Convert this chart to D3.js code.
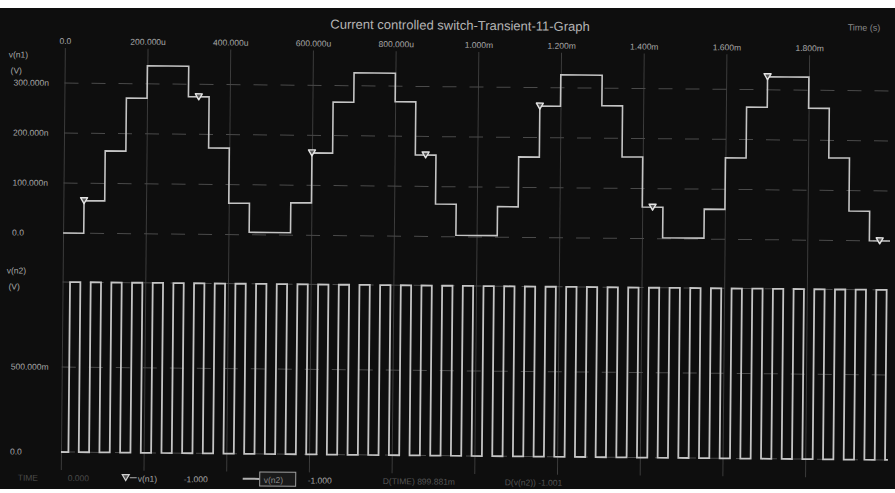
<!DOCTYPE html>
<html>
<head>
<meta charset="utf-8">
<script src="https://cdn.jsdelivr.net/npm/d3@7"></script>
<style>
  body { margin: 0; background: #fff; }
  text { font-family: "Liberation Sans", Arial, sans-serif; }
</style>
</head>
<body>
<svg id="chart" width="895" height="493"></svg>
<script>
// time axis (microseconds)
var xTicks = [0, 200, 400, 600, 800, 1000, 1200, 1400, 1600, 1800];
var xTickLabels = ['0.0', '200.000u', '400.000u', '600.000u', '800.000u',
  '1.000m', '1.200m', '1.400m', '1.600m', '1.800m'];

// v(n1) panel (nV)
var y1Ticks = [0, 100, 200, 300];
var y1TickLabels = ['0.0', '100.000n', '200.000n', '300.000n'];

// v(n2) panel (V)
var y2Ticks = [0, 0.5, 1];
var y2TickLabels = ['0.0', '500.000m', ''];

// v(n1): one sample held for every 50us step
var v1Step = 50;
var v1Samples = [0, 65, 165, 271, 336, 336, 275, 173, 63, 5,
  5, 65, 165, 267, 326, 326, 269, 163, 65, 3,
  3, 61, 161, 263, 326, 326, 265, 163, 63, 2,
  2, 60, 163, 265, 326, 326, 264, 165, 59, 0];

// markers on v(n1)
var markerTimes = [50, 325, 600, 875, 1150, 1425, 1700, 1975];

// v(n2): rising and falling edges of the switch signal (us)
var v2Rise = [18, 68, 118, 168, 218, 268, 318, 368, 418, 468, 518, 568, 618, 668, 718, 768, 818, 868, 918, 968,
  1018, 1068, 1118, 1168, 1218, 1268, 1318, 1368, 1418, 1468, 1518, 1568, 1618, 1668, 1718, 1768, 1818, 1868, 1918, 1968];
var v2Fall = [43, 93, 143, 193, 243, 293, 343, 393, 443, 493, 543, 593, 643, 693, 743, 793, 843, 893, 943, 993,
  1043, 1093, 1143, 1193, 1243, 1293, 1343, 1393, 1443, 1493, 1543, 1593, 1643, 1693, 1743, 1793, 1843, 1893, 1943, 1993];

var tEnd = 2000;

var svg = d3.select('#chart');

// dark screen
svg.append('rect')
  .attr('x', 0).attr('y', 8)
  .attr('width', 895).attr('height', 481)
  .attr('fill', '#0e0e0e');

// the photo is slightly tilted
var root = svg.append('g').attr('transform', 'rotate(0.55, 63, 240)');

var x = d3.scaleLinear().domain([0, tEnd]).range([63, 890]);
var y1 = d3.scaleLinear().domain([0, 300]).range([233, 83]);
var y2 = d3.scaleLinear().domain([0, 1]).range([452, 282]);

var textColor = '#a8a8a8';
var traceColor = '#c4c4c4';

root.append('text')
  .attr('x', 458).attr('y', 26)
  .attr('text-anchor', 'middle')
  .style('font-size', '13px')
  .attr('fill', '#b4b4b4')
  .text('Current controlled switch-Transient-11-Graph');

root.append('text')
  .attr('x', 862).attr('y', 23)
  .attr('text-anchor', 'middle')
  .style('font-size', '9px')
  .attr('fill', '#8a8a8a')
  .text('Time (s)');

// time axis with vertical grid through both panels
var xAxis = d3.axisTop(x)
  .tickValues(xTicks)
  .tickFormat(function (d, i) { return xTickLabels[i]; })
  .tickSize(-422)
  .tickPadding(4);

var gx = root.append('g')
  .attr('transform', 'translate(0,48)')
  .call(xAxis);
gx.select('.domain').remove();
gx.selectAll('line').attr('stroke', '#3c3c3c');
gx.selectAll('text')
  .attr('fill', textColor)
  .style('font-size', '8.5px')
  .style('font-family', '"Liberation Sans", Arial, sans-serif');

// horizontal dashed grid
root.append('g').selectAll('line')
  .data(y1Ticks)
  .enter().append('line')
  .attr('x1', x(0)).attr('x2', x(tEnd))
  .attr('y1', function (d) { return y1(d); })
  .attr('y2', function (d) { return y1(d); })
  .attr('stroke', '#4a4a4a')
  .attr('stroke-dasharray', '14,13');

root.append('g').selectAll('line')
  .data(y2Ticks)
  .enter().append('line')
  .attr('x1', x(0)).attr('x2', x(tEnd))
  .attr('y1', function (d) { return y2(d); })
  .attr('y2', function (d) { return y2(d); })
  .attr('stroke', '#4a4a4a')
  .attr('stroke-dasharray', '14,13');

// y labels, left aligned
function panelLabels(ticks, labels, scale, name, top) {
  var g = root.append('g').style('font-size', '8.5px').attr('fill', textColor);
  g.append('text').attr('x', 7).attr('y', top).text(name);
  g.append('text').attr('x', 9).attr('y', top + 16).text('(V)');
  g.selectAll('.ylab')
    .data(ticks)
    .enter().append('text')
    .attr('class', 'ylab')
    .attr('x', 12)
    .attr('y', function (d) { return scale(d) + 3; })
    .text(function (d, i) { return labels[i]; });
}
panelLabels(y1Ticks, y1TickLabels, y1, 'v(n1)', 58);
panelLabels(y2Ticks, y2TickLabels, y2, 'v(n2)', 274);

// v(n1) staircase
var v1Points = v1Samples.map(function (v, i) { return { t: i * v1Step, v: v }; });
v1Points.push({ t: tEnd, v: v1Samples[v1Samples.length - 1] });

var line1 = d3.line()
  .curve(d3.curveStepAfter)
  .x(function (d) { return x(d.t); })
  .y(function (d) { return y1(d.v); });

root.append('path')
  .datum(v1Points)
  .attr('d', line1)
  .attr('fill', 'none')
  .attr('stroke', traceColor)
  .attr('stroke-width', 1.6);

// v(n2) square wave
var v2Points = [{ t: 0, v: 0 }];
v2Rise.forEach(function (r, i) {
  v2Points.push({ t: r, v: 1 });
  v2Points.push({ t: v2Fall[i], v: 0 });
});
v2Points.push({ t: tEnd, v: 0 });

var line2 = d3.line()
  .curve(d3.curveStepAfter)
  .x(function (d) { return x(d.t); })
  .y(function (d) { return y2(d.v); });

root.append('path')
  .datum(v2Points)
  .attr('d', line2)
  .attr('fill', 'none')
  .attr('stroke', traceColor)
  .attr('stroke-width', 1.8);

// markers
var markerPath = 'M-3.5,-3 L3.5,-3 L0,3 Z';
root.append('g').selectAll('path')
  .data(markerTimes)
  .enter().append('path')
  .attr('transform', function (t) {
    var v = v1Samples[Math.min(Math.floor(t / v1Step), v1Samples.length - 1)];
    return 'translate(' + x(t) + ',' + y1(v) + ')';
  })
  .attr('d', markerPath)
  .attr('fill', '#555')
  .attr('stroke', '#e4e4e4')
  .attr('stroke-width', 1.4)
  .attr('stroke-linejoin', 'round');

// status / legend row
var leg = root.append('g').style('font-size', '8.5px');
leg.append('text').attr('x', 20).attr('y', 481).attr('fill', '#4a4a4a').text('TIME');
leg.append('text').attr('x', 70).attr('y', 481).attr('fill', '#4a4a4a').text('0.000');
leg.append('path')
  .attr('transform', 'translate(128,477)')
  .attr('d', markerPath)
  .attr('fill', '#555')
  .attr('stroke', '#d0d0d0')
  .attr('stroke-width', 1.2);
leg.append('line')
  .attr('x1', 132).attr('x2', 139).attr('y1', 477).attr('y2', 477)
  .attr('stroke', '#b0b0b0');
leg.append('text').attr('x', 140).attr('y', 481).attr('fill', textColor).text('v(n1)');
leg.append('text').attr('x', 186).attr('y', 481).attr('fill', textColor).text('-1.000');
leg.append('line')
  .attr('x1', 245).attr('x2', 262).attr('y1', 477).attr('y2', 477)
  .attr('stroke', '#b0b0b0').attr('stroke-width', 2);
leg.append('rect')
  .attr('x', 262).attr('y', 470).attr('width', 36).attr('height', 14)
  .attr('fill', '#1a1a1a').attr('stroke', '#a0a0a0');
leg.append('text').attr('x', 266).attr('y', 481).attr('fill', '#888').text('v(n2)');
leg.append('text').attr('x', 310).attr('y', 481).attr('fill', textColor).text('-1.000');
leg.append('text').attr('x', 385).attr('y', 481).attr('fill', '#555').text('D(TIME)  899.881m');
leg.append('text').attr('x', 507).attr('y', 481).attr('fill', '#555').text('D(v(n2))  -1.001');
</script>
</body>
</html>
